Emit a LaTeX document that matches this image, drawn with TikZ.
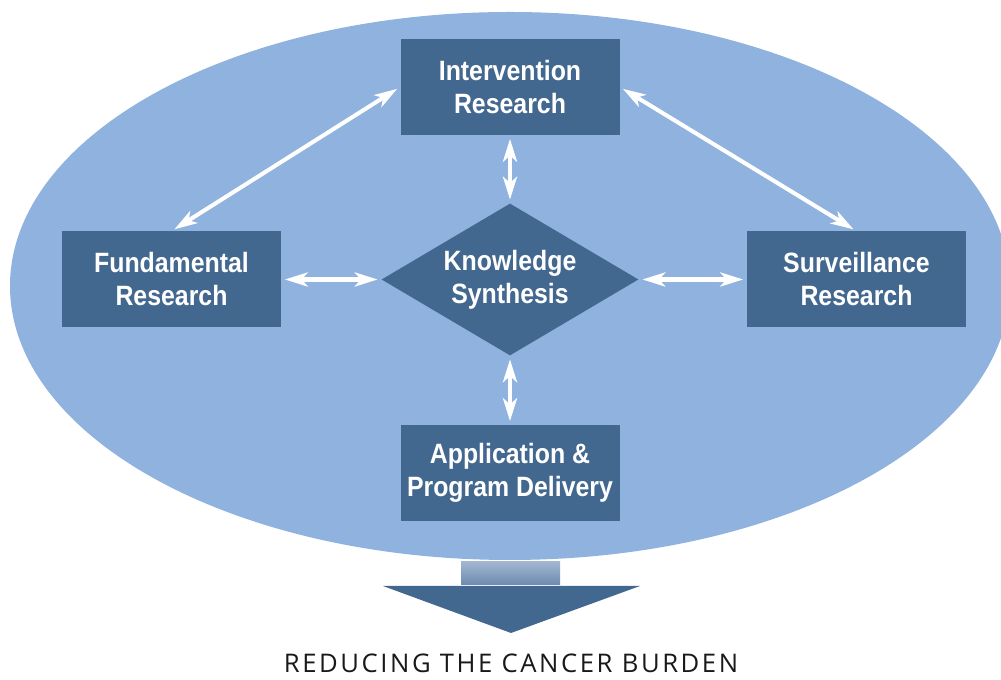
\documentclass[tikz,border=0pt]{standalone}
\usepackage{fontspec}
\setmainfont{Liberation Sans}
\newfontfamily\boxfont[FakeStretch=0.89]{Liberation Sans}
\newfontfamily\captionfont[LetterSpace=10]{Open Sans}
\usepackage{tikz}
\usetikzlibrary{shapes.geometric,arrows.meta}
\tikzset{>={Stealth[length=13pt,width=8pt,inset=3.5pt]}}
\definecolor{ovalblue}{RGB}{143,178,222}
\definecolor{boxblue}{RGB}{67,104,143}
\definecolor{stubtop}{RGB}{162,182,208}
\definecolor{stubbot}{RGB}{108,138,176}
\definecolor{captiongray}{RGB}{25,25,25}

\begin{document}
\begin{tikzpicture}
    \tikzstyle{researchbox}=[fill=boxblue,text=white,font=\boxfont\bfseries\fontsize{15.9pt}{18.8pt}\selectfont,align=center,minimum width=4.38cm,minimum height=1.92cm,inner sep=0pt];
    \tikzstyle{hubdiamond}=[researchbox,diamond,aspect=1.69,minimum width=5.14cm,minimum height=3.04cm];
    \tikzstyle{linkarrow}=[draw=white,line width=2.3pt,<->,shorten <=2pt,shorten >=2pt];
    \useasboundingbox (0,0) rectangle (20.02,13.6);
    \clip (0,0) rectangle (20.02,13.6);
    \fill[ovalblue](10.2,7.88) ellipse[x radius=10cm,y radius=5.48cm];
    \node[researchbox] (int) at (10.2,11.86) {Intervention\\Research};
    \node[researchbox] (fund) at (3.43,8.01) {Fundamental\\Research};
    \node[researchbox] (surv) at (17.13,8.01) {Surveillance\\Research};
    \node[researchbox] (app) at (10.2,4.14) {Application \&\\Program Delivery};
    \node[hubdiamond] (know) at (10.2,8.01) {Knowledge\\Synthesis};
    \draw[linkarrow](int)--(know);
    \draw[linkarrow](know)--(app);
    \draw[linkarrow](fund.east)--(know.west);
    \draw[linkarrow](know.east)--(surv.west);
    \draw[linkarrow](fund.north)--(int.west);
    \draw[linkarrow](int.east)--(surv.north);
    \shade[top color=stubtop,bottom color=stubbot](9.22,1.9) rectangle (11.2,2.36);
    \fill[boxblue](7.66,1.88)--(12.8,1.88)--(10.22,0.94)--cycle;
    \node[font=\captionfont\fontsize{14.6pt}{16pt}\selectfont,text=captiongray,anchor=base] (burden) at (10.22,0.14) {REDUCING THE CANCER BURDEN};
\end{tikzpicture}
\end{document}
